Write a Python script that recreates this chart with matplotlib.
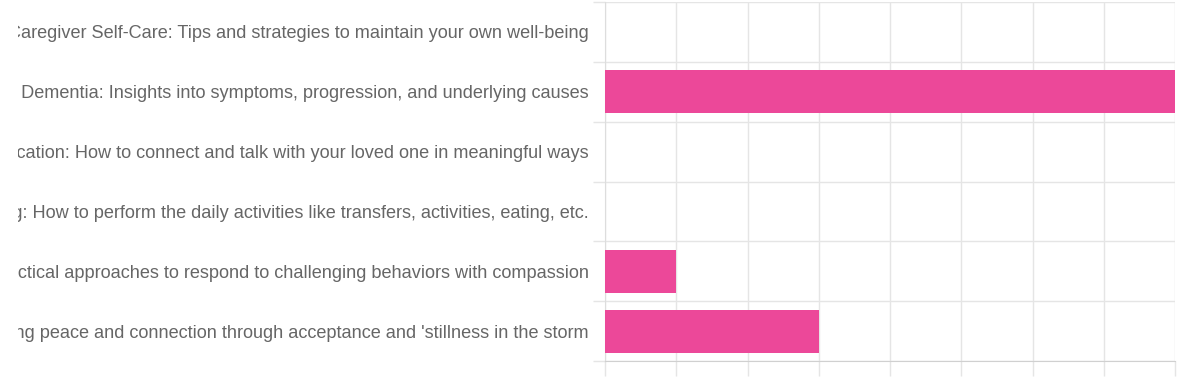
import matplotlib
matplotlib.use("Agg")
import matplotlib.pyplot as plt
from matplotlib.patches import Rectangle
import numpy as np

# Topics (labels are cut off at the left edge in the original screenshot)
topics = [
    "Caregiver Self-Care: Tips and strategies to maintain your own well-being",
    "Understanding Dementia: Insights into symptoms, progression, and underlying causes",
    "Communication: How to connect and talk with your loved one in meaningful ways",
    "Daily Caregiving: How to perform the daily activities like transfers, activities, eating, etc.",
    "Managing Behaviors: Practical approaches to respond to challenging behaviors with compassion",
    "Emotional Wellness: Finding peace and connection through acceptance and 'stillness in the storm",
]
votes = [0, 8, 0, 0, 1, 3]

bar_color = "#ec4899"
grid_color = "#e5e5e5"
text_color = "#666666"

plt.rcParams["font.family"] = ["Liberation Sans", "DejaVu Sans"]

fig = plt.figure(figsize=(11.99, 3.78), dpi=100)
ax = fig.add_axes([605 / 1199, 1 - 361 / 378, (1175 - 605) / 1199, (361 - 2) / 378])

y = np.arange(len(topics))
ax.barh(y, votes, height=0.72, color=bar_color, zorder=3)

ax.set_xlim(0, 8)
ax.set_ylim(len(topics) - 0.5, -0.5)

# x grid + tick marks hanging below the axis
ax.set_xticks(np.arange(0, 9, 1))
ax.tick_params(axis="x", length=11, width=1, color=grid_color, labelbottom=False)
ax.grid(axis="x", color=grid_color, linewidth=1, zorder=0)

# category labels at centers, grid lines at row boundaries
ax.set_yticks(y)
ax.set_yticklabels(topics, fontsize=13.1, color=text_color)
ax.tick_params(axis="y", which="major", length=0, pad=11.5)
ax.set_yticks(np.arange(-0.5, len(topics), 1), minor=True)
ax.tick_params(axis="y", which="minor", length=8.5, width=1, color=grid_color)
ax.grid(axis="y", which="minor", color=grid_color, linewidth=1, zorder=0)

for side in ["top", "right"]:
    ax.spines[side].set_visible(False)
ax.spines["left"].set_color("#dddddd")
ax.spines["bottom"].set_color("#d0d0d0")

# the screenshot crops the long labels a little in from the left edge
fig.add_artist(Rectangle((0, 0), 18 / 1199, 1, transform=fig.transFigure,
                         facecolor="white", edgecolor="none", zorder=10))

fig.savefig("out.png", dpi=100)
